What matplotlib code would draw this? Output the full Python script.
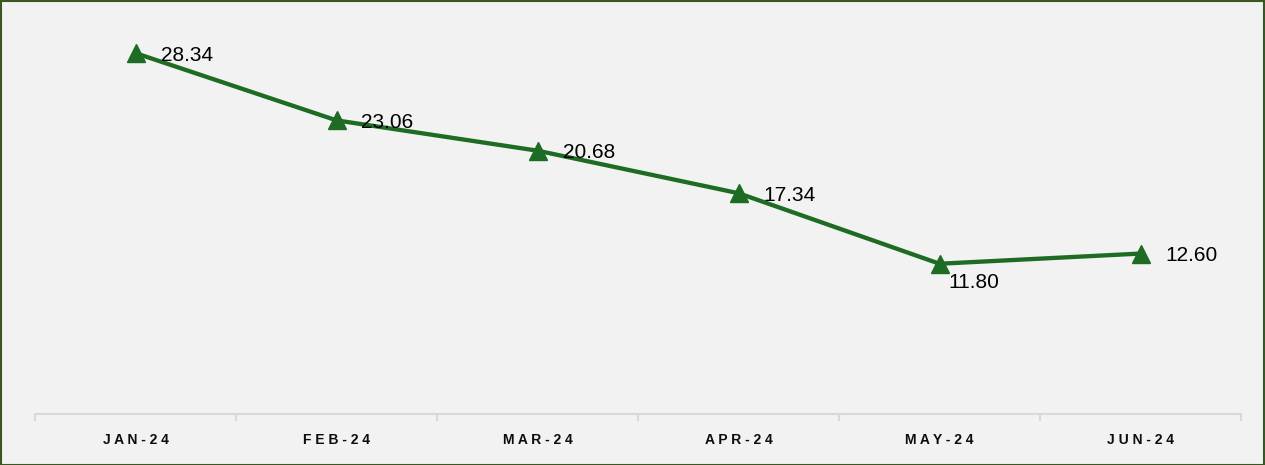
import matplotlib
matplotlib.use("Agg")
import matplotlib.pyplot as plt
from matplotlib.ticker import FixedLocator
from matplotlib.patches import Rectangle

categories = ["JAN-24", "FEB-24", "MAR-24", "APR-24", "MAY-24", "JUN-24"]
values = [28.34, 23.06, 20.68, 17.34, 11.80, 12.60]
label_below = [False, False, False, False, True, False]

W, H = 1265, 465
fig = plt.figure(figsize=(W / 100, H / 100), dpi=100)
fig.patch.set_facecolor("#f2f2f2")
fig.patches.append(Rectangle((0.0008, 0.001), 0.9984, 0.997, transform=fig.transFigure,
                             fill=False, edgecolor="#385723", linewidth=1.5, zorder=10))

ax = fig.add_axes([35 / W, 51 / H, (1241 - 35) / W, (414 - 32) / H])
ax.set_facecolor("#f2f2f2")
x = list(range(len(categories)))
line_color = "#1e6b24"
ax.plot(x, values, color=line_color, linewidth=3.1, marker="^", markersize=13,
        markerfacecolor=line_color, markeredgecolor=line_color, clip_on=False, zorder=3)

for xi, v, below in zip(x, values, label_below):
    if below:
        ax.annotate(f"{v:.2f}", (xi, v), xytext=(9, -19), textcoords="offset pixels",
                    ha="left", va="center", fontsize=15, family="Liberation Sans", color="#000000")
    else:
        ax.annotate(f"{v:.2f}", (xi, v), xytext=(25, -2), textcoords="offset pixels",
                    ha="left", va="center", fontsize=15, family="Liberation Sans", color="#000000")

ax.set_xlim(-0.5, len(categories) - 0.5)
ax.set_ylim(0, 30)
ax.set_yticks([])
for s in ["top", "right", "left"]:
    ax.spines[s].set_visible(False)
ax.spines["bottom"].set_color("#d9d9d9")
ax.spines["bottom"].set_linewidth(1.5)

ax.xaxis.set_major_locator(FixedLocator(x))
ax.set_xticklabels([" ".join(c) for c in categories], fontsize=10, fontweight="bold",
                   family="Liberation Sans", color="#0d0d0d")
ax.tick_params(axis="x", which="major", length=0, pad=14)
ax.xaxis.set_minor_locator(FixedLocator([i - 0.5 for i in range(len(categories) + 1)]))
ax.tick_params(axis="x", which="minor", length=5, width=1.5, color="#d9d9d9", direction="out")

fig.savefig("out.png", dpi=100, facecolor=fig.get_facecolor())
